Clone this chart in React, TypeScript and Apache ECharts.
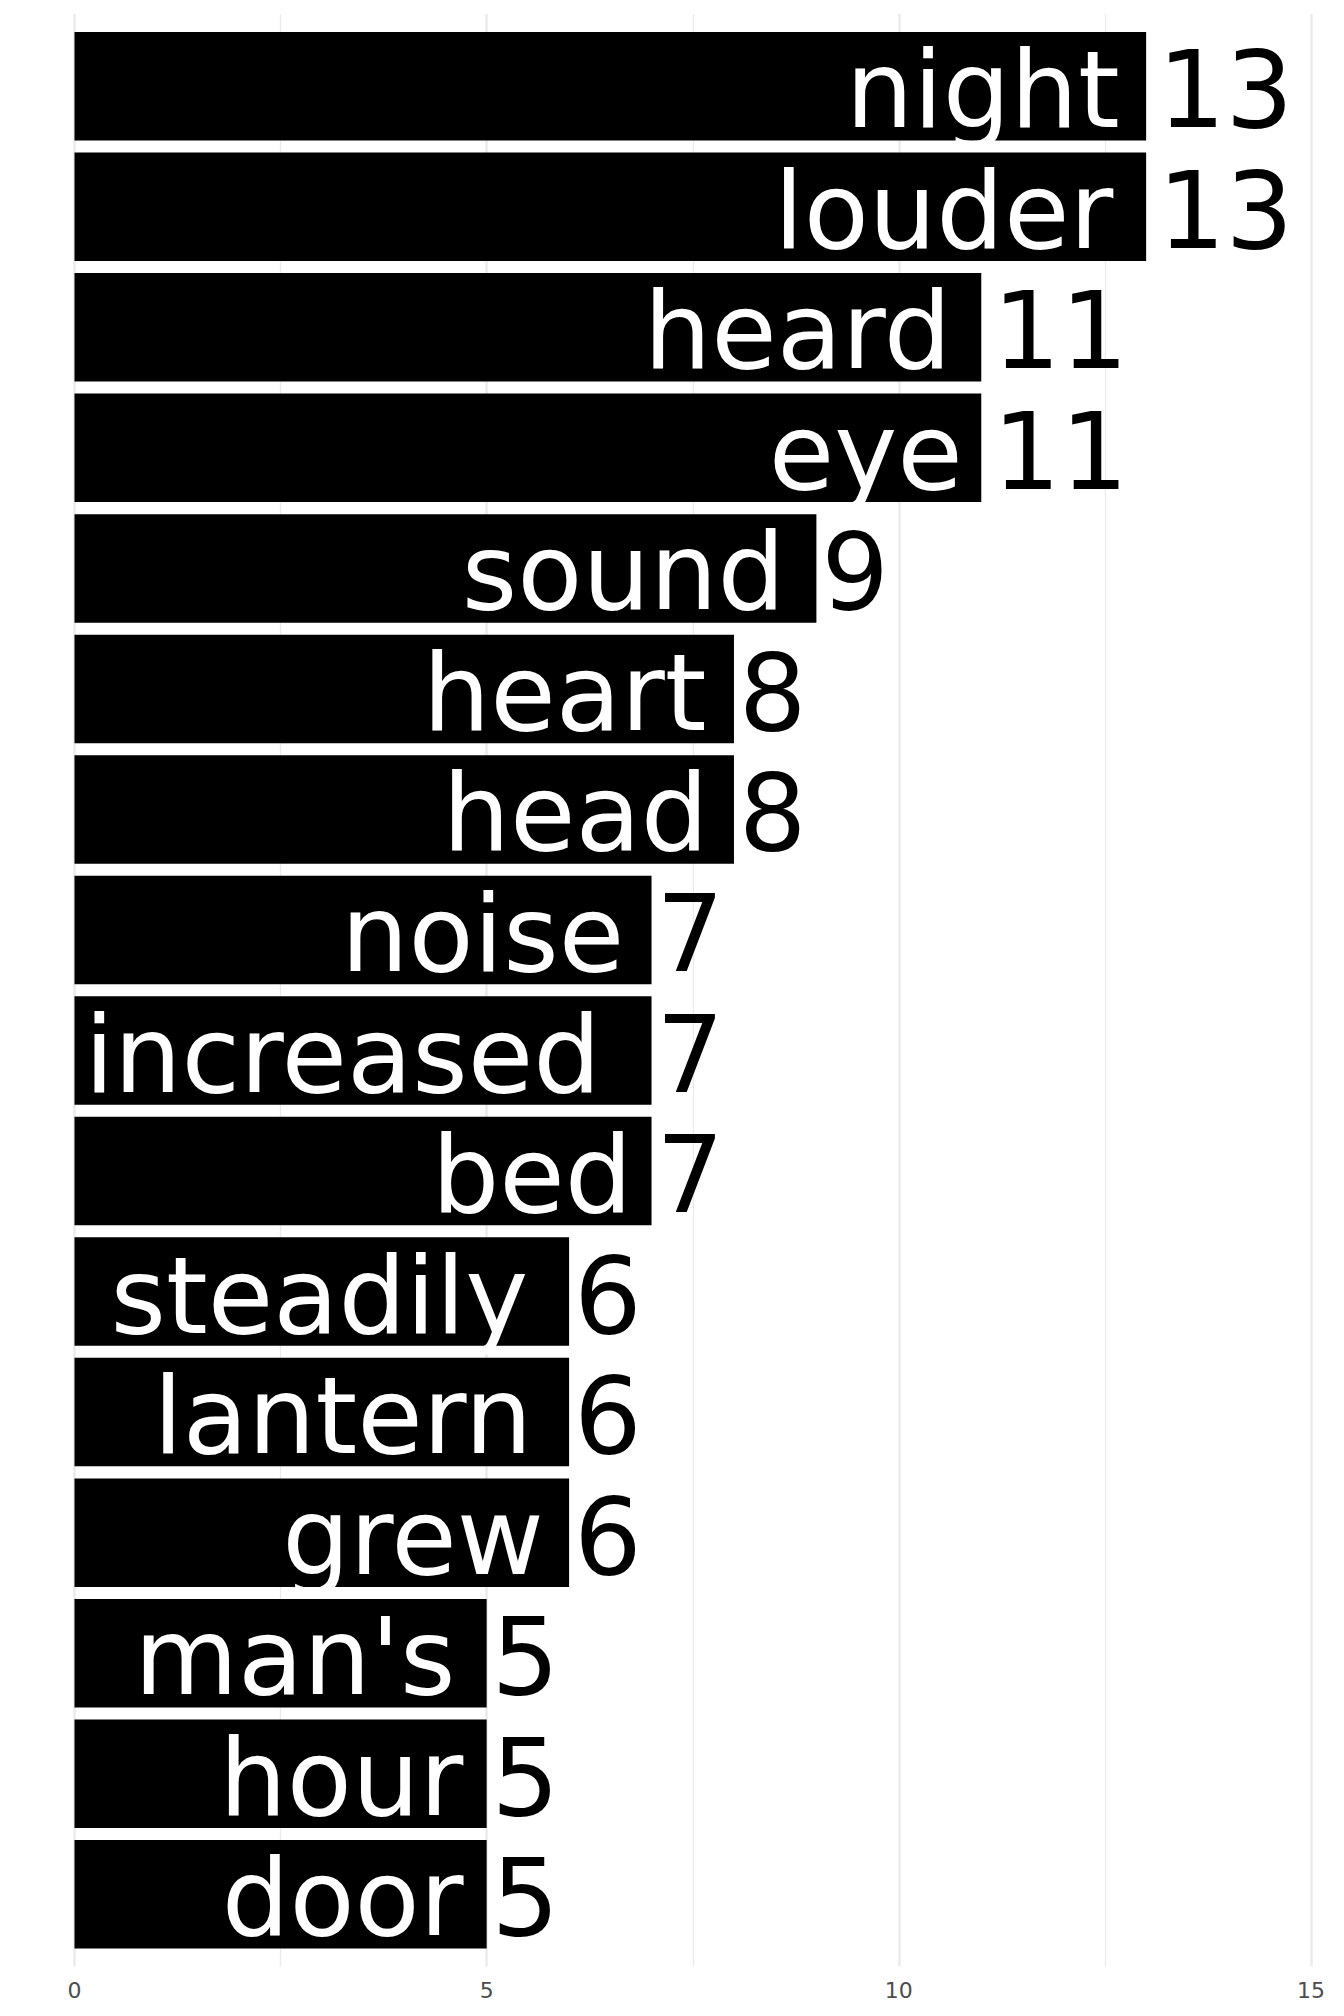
import React, { useEffect, useRef } from "react";
import * as echarts from "echarts";

const words = [
  "night", "louder", "heard", "eye", "sound", "heart", "head", "noise",
  "increased", "bed", "steadily", "lantern", "grew", "man's", "hour", "door",
];
const counts = [13, 13, 11, 11, 9, 8, 8, 7, 7, 7, 6, 6, 6, 5, 5, 5];
const xTicks = [0, 5, 10, 15];

const FONT = "'DejaVu Sans', 'Liberation Sans', sans-serif";
const BIG = 106.5;

function measure(text: string, size: number): number {
  const c = document.createElement("canvas");
  const ctx = c.getContext("2d");
  if (!ctx) return text.length * size * 0.6;
  ctx.font = `${size}px ${FONT}`;
  return ctx.measureText(text).width;
}

export default function App() {
  const ref = useRef<HTMLDivElement>(null);
  useEffect(() => {
    document.body.style.margin = "0";
    if (!ref.current) return;
    const chart = echarts.init(ref.current, undefined, { renderer: "svg" });
    const left = 74.5;
    const right = 33;
    const wordData = words.map((w, i) => ({
      value: counts[i],
      label: { distance: Math.max(0, measure(w, BIG) * 0.1 - 1) },
    }));
    const numData = counts.map((v) => ({
      value: v,
      label: { distance: Math.max(0, measure(String(v), BIG) * 0.1 - 2) },
    }));
    chart.setOption({
      animation: false,
      backgroundColor: "#ffffff",
      grid: [
        { left, right, top: 14, bottom: 49.5, containLabel: false },
        { left, right, top: 26, bottom: 61.5, containLabel: false },
      ],
      xAxis: [
        {
          gridIndex: 0,
          type: "value",
          min: 0,
          max: 15,
          interval: 5,
          axisLine: { show: false },
          axisTick: { show: false },
          axisLabel: {
            show: true,
            color: "#4d4d4d",
            fontSize: 22,
            fontFamily: FONT,
            margin: 13,
            customValues: xTicks,
          },
          splitLine: { show: true, lineStyle: { color: "#ebebeb", width: 2.5 } },
          minorTick: { show: false, splitNumber: 2 },
          minorSplitLine: { show: true, lineStyle: { color: "#ebebeb", width: 1.3 } },
        },
        {
          gridIndex: 1,
          type: "value",
          min: 0,
          max: 15,
          show: false,
        },
      ],
      yAxis: [
        { gridIndex: 0, type: "value", min: 0, max: 1, show: false },
        {
          gridIndex: 1,
          type: "category",
          inverse: true,
          data: words,
          show: false,
        },
      ],
      series: [
        {
          type: "bar",
          xAxisIndex: 1,
          yAxisIndex: 1,
          data: wordData,
          barCategoryGap: "10%",
          barGap: "-100%",
          itemStyle: { color: "#000000" },
          label: {
            show: true,
            position: "insideRight",
            formatter: "{b}",
            color: "#ffffff",
            fontSize: BIG,
            fontFamily: FONT,
            offset: [0, 4],
          },
          z: 2,
        },
        {
          type: "bar",
          xAxisIndex: 1,
          yAxisIndex: 1,
          data: numData,
          barCategoryGap: "10%",
          barGap: "-100%",
          itemStyle: { color: "rgba(0,0,0,0)" },
          label: {
            show: true,
            position: "right",
            formatter: "{c}",
            color: "#000000",
            fontSize: BIG,
            fontFamily: FONT,
            offset: [0, 4],
          },
          z: 3,
        },
      ],
    });
    return () => chart.dispose();
  }, []);
  return <div ref={ref} style={{ width: 1344, height: 2016 }} />;
}
